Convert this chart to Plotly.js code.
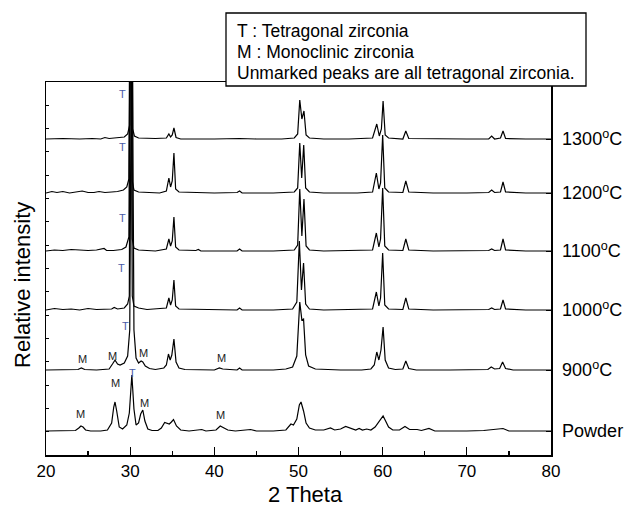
<!DOCTYPE html>
<html>
<head>
<meta charset="utf-8">
<script src="https://cdn.plot.ly/plotly-3.0.1.min.js"></script>
<style>html,body{margin:0;padding:0;background:#fff;}#chart{width:624px;height:509px;}</style>
</head>
<body>
<div id="chart"></div>
<script>
// Sample names and vertical offsets (baseline of each pattern, arbitrary intensity units)
const sampleNames = ["1300<sup>o</sup>C", "1200<sup>o</sup>C", "1100<sup>o</sup>C", "1000<sup>o</sup>C", "900<sup>o</sup>C", "Powder"];
const sampleOffsets = [316, 262, 204, 145, 85, 24];

// 2 Theta / relative intensity points
const x1300 = [20,22,24,25.5,26.5,27,27.5,28.5,29.3,29.7,29.95,30.15,30.3,30.5,31,33,34.3,34.6,34.8,35.0,35.2,35.45,36,40,43,45,48,49.5,49.9,50.15,50.4,50.65,50.9,51.3,53,56,58.8,59.3,59.6,59.85,60.05,60.3,60.7,62.4,62.75,63.1,66,70,72.6,72.95,73.3,74.0,74.3,74.6,77,80];
const y1300 = [0,0.5,0,0.5,0,1.5,0.5,1,2,5,14,420,10,3,1,0.5,1,5,2,4,11,1.5,0,0,0.5,0,0,1,5,39,20,28,4,1,0,0,1,15,3,10,38,4,1,0,8,0.5,0,0,0,3,0,1,8,0.5,0,0];

const x1200 = [20,20.7,21.3,22,22.8,23.5,24.3,25,25.7,26.3,27,27.8,28.5,29.2,29.6,29.85,30.1,30.25,30.45,31,32,33.5,34.3,34.6,34.8,35.0,35.2,35.4,35.8,38,40,42.7,43.0,43.3,47,49.5,49.9,50.15,50.38,50.62,50.85,51.3,53,57,58.8,59.25,59.55,59.75,60.0,60.25,60.7,62.4,62.75,63.1,66,70,72.6,72.95,73.3,74.0,74.3,74.6,77,80];
const y1200 = [0,1.5,0.5,1.5,0,1,2,0.5,0.5,1.5,0.5,1,1.5,3,6,14,420,12,3,1,0.5,0,2,15,6,12,40,4,1,0.5,0,0.5,2,0,0,1,5,50,15,48,5,1,0,0,1,20,4,10,58,5,1,0.5,12,1,0,0,0.5,3,0.5,1,11,1,0,0];

const x1100 = [20,21,22,23,24,25,26,26.9,27.2,28,29,29.5,29.85,30.1,30.25,30.45,31,33,34.3,34.6,34.8,35.0,35.2,35.4,35.8,37.8,38.1,38.4,42.7,43.0,43.3,47,49.5,49.9,50.15,50.4,50.65,50.9,51.3,53,58.8,59.25,59.55,59.75,60.0,60.25,60.7,62.4,62.75,63.1,66,72.6,72.95,73.3,74.0,74.3,74.6,77,80];
const y1100 = [0,1,0.5,1.5,1,0.5,1,2.5,0.5,0.5,1.5,4,14,420,12,3,1,0,2,12,5,10,34,4,1,0.5,1.5,0,0,2,0,0,1,6,62,15,52,5,1,0,1,18,4,12,63,5,1,0.5,12,1,0,0.5,2,0.5,1,12,1,0,0];

const x1000 = [20,21,22,23,24,25,26,27,27.8,28.1,28.5,29.3,29.7,29.9,30.05,30.25,30.45,31,31.3,32,34.3,34.6,34.8,35.0,35.2,35.4,35.8,40,42.7,43.0,43.3,47,49.3,49.8,50.1,50.35,50.6,50.85,51.3,53,58.8,59.25,59.55,59.75,60.0,60.25,60.7,62.4,62.75,63.1,66,72.6,72.95,73.3,74.0,74.3,74.6,77,80];
const y1000 = [0,1.5,0.5,1,0,1.5,0.5,1,1,2.5,1,2,6,14,420,14,4,2,1.5,0.5,2,12,5,10,30,4,1,0,0,2,0,0,1,8,69,20,47,6,1,0,1,18,4,12,57,5,1,0.5,12,1,0,0.5,2,0.5,1,10,1,0,0];

const x900 = [20,22,23.8,24.2,24.6,26,27.5,27.9,28.2,28.5,28.8,29.3,29.7,29.95,30.2,30.45,30.7,31.0,31.3,31.5,31.8,32.3,33,34.0,34.3,34.55,34.75,34.95,35.2,35.45,35.8,36.5,40,40.6,41.0,42.7,43.0,43.3,47,48.5,49.3,49.8,50.15,50.4,50.6,50.85,51.2,52,55,57.5,58.6,59.0,59.3,59.55,59.8,60.05,60.3,60.7,61.5,62.4,62.75,63.1,64,68,72.5,72.9,73.3,73.9,74.25,74.6,75.5,80];
const y900 = [0,0.5,0.5,2,0.5,0,1,6,10,6,5,7,14,40,420,40,12,7,9,8,4,1.5,0.5,2,5,16,10,15,31,8,2,0.5,0,2,1,0,2,0,0,1,3,14,68,50,51,15,4,1,0,0,1,5,18,10,20,43,10,2,0.5,1,9,1.5,0,0,0.5,3,1,1.5,8,1.5,0,0];

const xPowder = [20,22,23.5,23.9,24.15,24.4,24.7,25.3,26.5,27.3,27.8,28.05,28.2,28.4,28.7,29.1,29.6,29.9,30.2,30.45,30.7,31.0,31.25,31.5,31.75,32.1,32.6,33.3,33.7,34.1,34.4,34.65,34.9,35.15,35.5,36,37,38,38.5,39,40.2,40.7,41.1,41.6,42.5,43.5,44.3,45,47,48.5,49.1,49.4,49.8,50.1,50.3,50.6,50.9,51.3,52,53,53.8,54.3,55,55.6,56.2,56.8,57.2,57.6,58.1,58.6,59.1,59.6,59.85,60.05,60.35,60.7,61.2,62,62.65,63.2,64.1,64.6,65.5,66.2,70,72,74.3,75,80];
const yPowder = [0,0.5,0.5,3,5,4,1,0,0,1,8,24,29,20,4,2,6,18,56,22,6,8,17,21,10,2,0.5,0.5,3,8.5,7.5,7,9,11.5,5,1,0,0.5,1.5,0,1,5,3.5,1,0,0.5,1.5,0,0,1,7,6,12,26,29,20,8,3,1,1,3,1,2,4.5,3,1,2.5,1,2,1,4,10,12,15,10,4,1,1,4.5,1.5,1.5,0.5,2.5,0,0,0.5,2.5,0,0];

// Phase marks: [2 Theta, intensity position, label]
const markX = [29.1, 29.1, 29.05, 28.95, 29.5, 30.3, 24.3, 27.95, 31.55, 40.9, 24.15, 28.2, 31.65, 40.7];
const markY = [361, 308, 237, 187, 129, 82, 96, 99, 102, 97, 41, 72, 52, 40];
const markText = ["T","T","T","T","T","T","M","M","M","M","M","M","M","M"];

const legendLines = ["T : Tetragonal zirconia", "M : Monoclinic zirconia", "Unmarked peaks are all tetragonal zirconia."];
const xTicks = [20,30,40,50,60,70,80];

const xs = [x1300, x1200, x1100, x1000, x900, xPowder];
const ys = [y1300, y1200, y1100, y1000, y900, yPowder];

const traces = xs.map((xa, i) => ({
  x: xa,
  y: ys[i].map(v => v + sampleOffsets[i]),
  type: 'scatter', mode: 'lines',
  line: {color: '#000', width: 1.2},
  hoverinfo: 'skip', showlegend: false
}));
// invisible trace to activate right axis
traces.push({x: [20], y: [0], yaxis: 'y2', mode: 'markers', marker: {opacity: 0}, showlegend: false, hoverinfo: 'skip'});

const font = 'Liberation Sans, Arial, Helvetica, sans-serif';
const annotations = markX.map((mx, i) => ({
  x: mx, y: markY[i], xref: 'x', yref: 'y', text: markText[i], showarrow: false,
  font: {family: font, size: 11, color: markText[i] === 'T' ? '#4a5ca8' : '#222'},
  xanchor: 'center', yanchor: 'middle'
}));
const legendY = [1.137, 1.080, 1.024];
legendLines.forEach((t, i) => annotations.push({
  x: 0.374, y: legendY[i], xref: 'paper', yref: 'paper', text: t, showarrow: false,
  xanchor: 'left', yanchor: 'middle', font: {family: font, size: 17.5, color: '#000'}
}));
annotations.push({x: (305-46)/505, y: (455-494)/373, xref: 'paper', yref: 'paper', text: '2 Theta', showarrow: false,
  xanchor: 'center', yanchor: 'middle', font: {family: font, size: 22, color: '#000'}});
annotations.push({x: (22-46)/505, y: (455-285)/373, xref: 'paper', yref: 'paper', text: 'Relative intensity', showarrow: false,
  textangle: -90, xanchor: 'center', yanchor: 'middle', font: {family: font, size: 22, color: '#000'}});

const layout = {
  width: 624, height: 509,
  margin: {l: 46, r: 73, t: 82, b: 54, pad: 0},
  paper_bgcolor: '#fff', plot_bgcolor: '#fff',
  xaxis: {
    range: [20, 80], tickvals: xTicks, ticktext: xTicks.map(String),
    ticks: 'inside', ticklen: 8, tickwidth: 1.3, tickcolor: '#000',
    minor: {ticks: 'inside', ticklen: 4, dtick: 5, tick0: 25, tickwidth: 1.3, tickcolor: '#000', showgrid: false},
    showline: true, linecolor: '#000', linewidth: 1.5, mirror: true,
    showgrid: false, zeroline: false,
    tickfont: {family: font, size: 17, color: '#000'}
  },
  yaxis: {
    range: [0, 373], tick0: 0, dtick: 373/16, ticks: 'inside', ticklen: 3, tickwidth: 1, tickcolor: '#000',
    showticklabels: false, showline: true, linecolor: '#000', linewidth: 1.5,
    showgrid: false, zeroline: false
  },
  yaxis2: {
    overlaying: 'y', side: 'right', range: [0, 373],
    tickvals: sampleOffsets, ticktext: sampleNames,
    ticks: 'inside', ticklen: 5, tickwidth: 1, tickcolor: '#000',
    showline: true, linecolor: '#000', linewidth: 1.5,
    showgrid: false, zeroline: false, ticklabelstandoff: 6,
    tickfont: {family: font, size: 18, color: '#000'}
  },
  shapes: [{
    type: 'rect', xref: 'paper', yref: 'paper',
    x0: (226-46)/505, x1: (586-46)/505, y0: (455-86)/373, y1: (455-13)/373,
    line: {color: '#000', width: 1.3}, fillcolor: '#fff', layer: 'above'
  }],
  annotations: annotations
};
Plotly.newPlot('chart', traces, layout, {displayModeBar: false, staticPlot: true});
</script>
</body>
</html>
